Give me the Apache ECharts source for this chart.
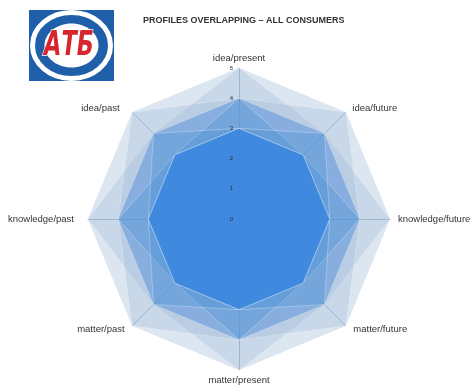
<!DOCTYPE html>
<html>
<head>
<meta charset="utf-8">
<style>
  html, body { margin: 0; padding: 0; background: #ffffff; }
  #chart { width: 475px; height: 387px; }
</style>
<script src="https://cdn.jsdelivr.net/npm/echarts@6/dist/echarts.min.js"></script>
</head>
<body>
<div id="chart"></div>
<script>
// Axes of the radar, listed counter-clockwise from the top
const axisNames = [
  'idea/present', 'idea/past', 'knowledge/past', 'matter/past',
  'matter/present', 'matter/future', 'knowledge/future', 'idea/future'
];
const scaleMax = 5;
const tickValues = [0, 1, 2, 3, 4, 5];

// Consumer profiles (one value per axis, same order as axisNames)
const profileA = [5, 5, 5, 5, 5, 5, 5, 5];
const profileB = [5, 4, 5, 4, 5, 4, 5, 4];
const profileC = [4, 5, 4, 5, 4, 5, 4, 5];
const profileD = [4, 4, 4, 4, 4, 4, 4, 4];
const profileE = [4, 3, 4, 3, 4, 3, 4, 3];
const profileF = [3, 4, 3, 4, 3, 4, 3, 4];
const profileG = [3, 3, 3, 3, 3, 3, 3, 3];
const profileH = [3, 3, 3, 3, 3, 3, 3, 3];
const profiles = [profileA, profileB, profileC, profileD, profileE, profileF, profileG, profileH];

// fill of each profile: pale for the wide ones, saturated for the narrow core
const profileFills = [
  ['#93b0d2', 0.32], ['#93b0d2', 0.27], ['#93b0d2', 0.27], ['#4a8ad6', 0.45],
  ['#3f8ad6', 0.26], ['#3f8ad6', 0.26], ['#2a7ce2', 0.40], ['#2a7ce2', 0.40]
];

// extra space between each axis end and its name [top, right, bottom, left]
const namePads = {
  'idea/present': [0, 0, 0, 0],
  'idea/past': [0, 9, 0, 0],
  'knowledge/past': [0, 9, 0, 0],
  'matter/past': [0, 4, 0, 0],
  'matter/present': [0, 0, 0, 0],
  'matter/future': [0, 0, 0, 4],
  'knowledge/future': [0, 0, 0, 3],
  'idea/future': [0, 0, 0, 3]
};
const nameRich = {};
axisNames.forEach((n, i) => {
  nameRich['n' + i] = { fontSize: 9.5, color: '#333333', fontFamily: 'Liberation Sans', padding: namePads[n] };
});

const cx = 239, cy = 219, R = 151;

const chart = echarts.init(document.getElementById('chart'), null, { renderer: 'canvas' });

const option = {
  backgroundColor: '#ffffff',
  animation: false,
  title: {
    text: 'PROFILES OVERLAPPING \u2013 ALL CONSUMERS',
    left: 138, top: 11,
    textStyle: { fontFamily: 'Liberation Sans', fontWeight: 'bold', fontSize: 9, color: '#333333' }
  },
  radar: {
    center: [cx, cy],
    radius: R,
    startAngle: 90,
    shape: 'polygon',
    splitNumber: 5,
    indicator: axisNames.map(n => ({ name: n, min: 0, max: scaleMax })),
    axisName: {
      color: '#333333', fontSize: 9.5, fontFamily: 'Liberation Sans',
      formatter: name => '{n' + axisNames.indexOf(name) + '|' + name + '}',
      rich: nameRich
    },
    nameGap: 5,
    axisLine: { lineStyle: { color: 'rgba(100,120,150,0.5)', width: 1 } },
    splitLine: { show: false },
    splitArea: { show: false },
    axisTick: { show: false },
    axisLabel: { show: false }
  },
  // value scale printed along the top axis
  grid: { left: cx, top: cy - R, width: 1, height: R, z: 10 },
  xAxis: { type: 'value', show: false },
  yAxis: {
    type: 'value', min: tickValues[0], max: tickValues[tickValues.length - 1], interval: 1,
    z: 10,
    axisLine: { show: false }, axisTick: { show: false }, splitLine: { show: false },
    axisLabel: { fontSize: 6, color: '#1f2a44', margin: 6, fontFamily: 'Liberation Sans' }
  },
  series: [{
    type: 'radar',
    symbol: 'none',
    silent: true,
    z: 1,
    data: profiles.map((p, i) => ({
      value: p,
      name: 'profile ' + (i + 1),
      lineStyle: { color: 'rgba(235,242,250,0.5)', width: 0.8 },
      areaStyle: { color: profileFills[i][0], opacity: profileFills[i][1] }
    }))
  }],
  graphic: [
    // retailer logo
    { type: 'rect', left: 29, top: 10, shape: { width: 85, height: 71 }, style: { fill: '#1f5fa9' } },
    { type: 'ellipse', shape: { cx: 71.5, cy: 45.5, rx: 39, ry: 33 }, style: { fill: 'none', stroke: '#ffffff', lineWidth: 5 } },
    { type: 'ellipse', shape: { cx: 71.5, cy: 45.5, rx: 33, ry: 27.5 }, style: { fill: '#1f5fa9' } },
    { type: 'ellipse', shape: { cx: 71.5, cy: 45.5, rx: 27, ry: 22 }, style: { fill: '#ffffff' } },
    {
      type: 'group', x: 69, y: 46, scaleX: 0.66,
      children: [{
        type: 'text', x: 0, y: 0,
        style: { text: '\u0410\u0422\u0411', fill: '#d7262e', stroke: '#ffffff', lineWidth: 1.5,
                 fontStyle: 'oblique', fontWeight: 'bold', fontSize: 34, fontFamily: 'DejaVu Sans',
                 align: 'center', verticalAlign: 'middle' }
      }]
    }
  ]
};

chart.setOption(option);
</script>
</body>
</html>
